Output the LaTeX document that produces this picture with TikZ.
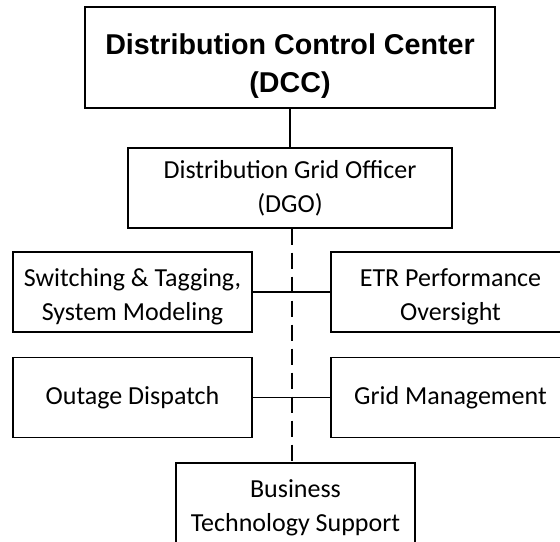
\documentclass[tikz,border=0pt]{standalone}
\usepackage{fontspec}
\setmainfont{Carlito}
\newfontfamily\dccfont{Liberation Sans}
\begin{document}
\begin{tikzpicture}[x=0.75pt,y=0.75pt,yscale=-1,xscale=1,
    unitbox/.style={draw,line width=1pt,rectangle,align=center,inner sep=2pt,
        minimum width=179.25pt,minimum height=60pt,font=\fontsize{19.5}{25.5}\selectfont},
    link/.style={line width=1pt},
    dashlink/.style={line width=1pt,dash pattern=on 12pt off 6pt}]
    \useasboundingbox (0,0) rectangle (560,542);
    \clip (0,0) rectangle (560,542);
    % Top box
    \node (dcc) [unitbox,minimum width=307.5pt,minimum height=75.75pt,
        font=\dccfont\bfseries\fontsize{21.5}{28.5}\selectfont] at (290,57.5)
        {\rule{0pt}{28pt}Distribution Control Center\\(DCC)};
    % Officer
    \node (dgo) [unitbox,minimum width=243pt] at (290,188)
        {Distribution Grid Officer\\(DGO)};
    % Left column
    \node (swt) [unitbox] at (132.5,292) {\rule{0pt}{20pt}Switching \& Tagging,\\System Modeling};
    \node (otg) [unitbox] at (132.5,397.5) {Outage Dispatch};
    % Right column
    \node (etr) [unitbox] at (450.5,292) {\rule{0pt}{20pt}ETR Performance\\Oversight};
    \node (grd) [unitbox] at (450.5,397.5) {Grid Management};
    % Bottom box
    \node (bts) [unitbox,minimum height=67.5pt] at (295.5,508) {Business\\Technology Support};

    % Connectors
    \draw [link] (dcc.south) -- (dgo.north);
    \draw [link] (swt.east) -- (etr.west);
    \draw [link] (otg.east) -- (grd.west);
    \draw [dashlink] ([xshift=1.5pt]dgo.south) -- ([xshift=1.5pt]dgo.south |- bts.north);
\end{tikzpicture}
\end{document}
